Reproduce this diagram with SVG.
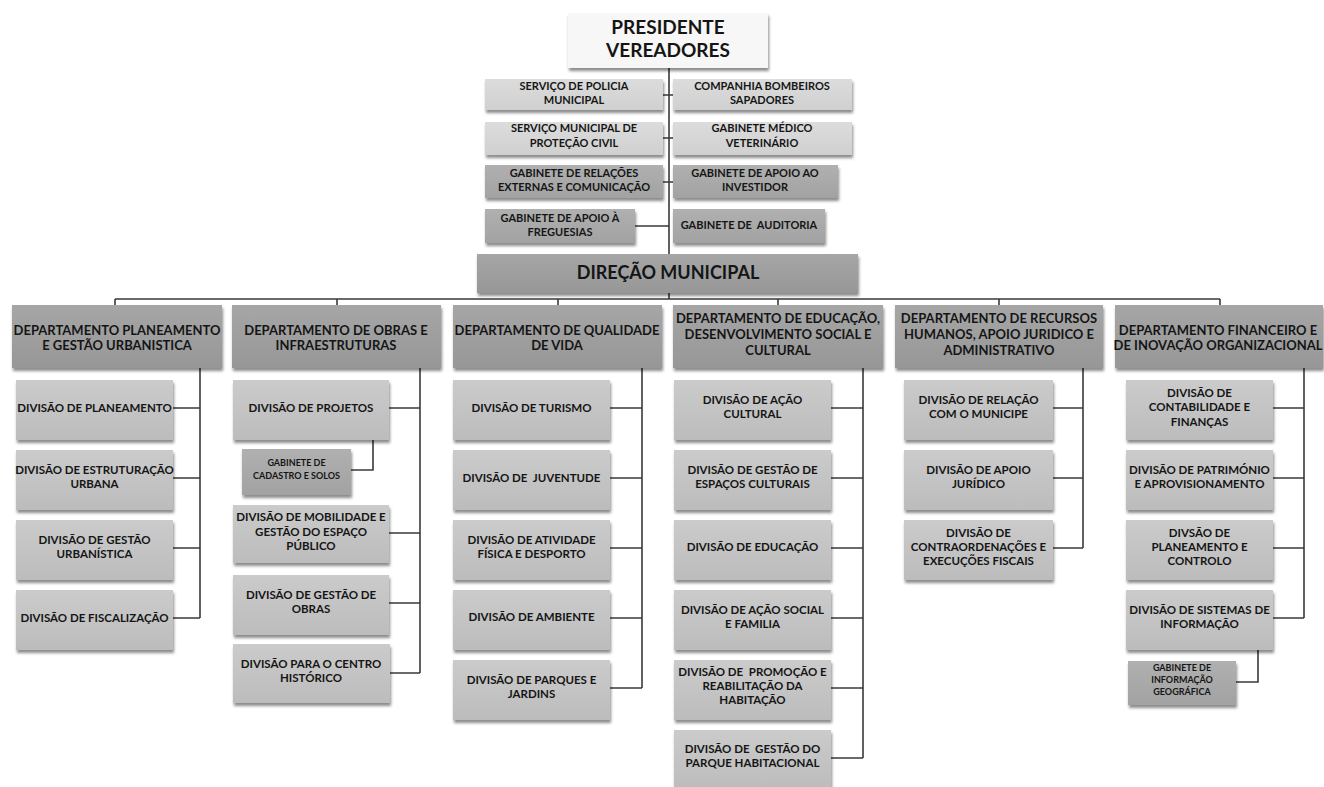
<svg xmlns="http://www.w3.org/2000/svg" width="1324" height="787" viewBox="0 0 1324 787">
<defs>
<filter id="sh" x="-10%" y="-20%" width="120%" height="150%">
<feDropShadow dx="1" dy="3" stdDeviation="1.6" flood-color="#000" flood-opacity="0.45"/>
</filter>
<linearGradient id="gDiv" x1="0" y1="0" x2="0" y2="1"><stop offset="0" stop-color="#cbcbcb"/><stop offset="1" stop-color="#bcbcbc"/></linearGradient>
<linearGradient id="gDep" x1="0" y1="0" x2="0" y2="1"><stop offset="0" stop-color="#a6a6a6"/><stop offset="1" stop-color="#979797"/></linearGradient>
<linearGradient id="gLt" x1="0" y1="0" x2="0" y2="1"><stop offset="0" stop-color="#dcdcdc"/><stop offset="1" stop-color="#d0d0d0"/></linearGradient>
<linearGradient id="gDk" x1="0" y1="0" x2="0" y2="1"><stop offset="0" stop-color="#b0b0b0"/><stop offset="1" stop-color="#a2a2a2"/></linearGradient>
</defs>
<style>
rect{filter:url(#sh)}
.div{fill:url(#gDiv)}
.dep{fill:url(#gDep)}
.lt{fill:url(#gLt)}
.dk{fill:url(#gDk)}
.wh{fill:#f7f7f7}
text{font-family:Lato,"Open Sans","Liberation Sans",sans-serif;font-weight:700;fill:#151515;text-anchor:middle}
.t11{font-size:11px}
.t12{font-size:11.5px}
.t9{font-size:9px}
.t14{font-size:13px}
.t20{font-size:18px}
.t21{font-size:19px}
#connectors path{fill:none;stroke:#3a3a3a;stroke-width:1.6}
</style>
<rect width="1324" height="787" fill="#fff" style="filter:none"/>
<g id="connectors">
<path d="M669 68V254M663 95H673M663 138H673M663 182H673M635 226H669"/>
<path d="M669 293V299M115 299H1220M115 299V305M337 299V305M558 299V305M778 299V305M999 299V305M1220 299V305"/>
<path d="M200 368V618M173 408H200M173 478H200M173 548H200M173 618H200"/>
<path d="M420 368V673M389 408H420M389 533H420M389 603H420M390 673H420M373 440V470H351"/>
<path d="M642 368V688M610 408H642M610 478H642M610 548H642M610 618H642M610 688H642"/>
<path d="M863 368V758M831 408H863M831 478H863M831 548H863M831 618H863M831 688H863M831 758H863"/>
<path d="M1083 368V548M1053 408H1083M1053 478H1083M1053 548H1083"/>
<path d="M1304 368V618M1273 408H1304M1273 478H1304M1273 548H1304M1273 618H1304M1258 650V682H1236"/>
</g>
<g id="presidente"><rect class="wh" x="568" y="13" width="200" height="55"/><text class="t21" x="668" y="34">PRESIDENTE</text><text class="t21" x="668" y="57">VEREADORES</text></g>
<g id="policia"><rect class="lt" x="485" y="79" width="178" height="31"/><text class="t11" x="574" y="90">SERVIÇO DE POLICIA</text><text class="t11" x="574" y="104">MUNICIPAL</text></g>
<g id="bombeiros"><rect class="lt" x="673" y="79" width="179" height="31"/><text class="t11" x="762" y="90">COMPANHIA BOMBEIROS</text><text class="t11" x="762" y="104">SAPADORES</text></g>
<g id="protecao"><rect class="lt" x="485" y="122" width="178" height="33"/><text class="t11" x="574" y="132">SERVIÇO MUNICIPAL DE</text><text class="t11" x="574" y="147">PROTEÇÃO CIVIL</text></g>
<g id="veterinario"><rect class="lt" x="673" y="122" width="179" height="33"/><text class="t11" x="762" y="132">GABINETE MÉDICO</text><text class="t11" x="762" y="147">VETERINÁRIO</text></g>
<g id="relacoes"><rect class="dk" x="485" y="165" width="178" height="33"/><text class="t11" x="574" y="177">GABINETE DE RELAÇÕES</text><text class="t11" x="574" y="191">EXTERNAS E COMUNICAÇÃO</text></g>
<g id="investidor"><rect class="dk" x="673" y="165" width="165" height="33"/><text class="t11" x="755" y="177">GABINETE DE APOIO AO</text><text class="t11" x="755" y="191">INVESTIDOR</text></g>
<g id="freguesias"><rect class="dk" x="485" y="209" width="150" height="34"/><text class="t11" x="560" y="222">GABINETE DE APOIO À</text><text class="t11" x="560" y="236">FREGUESIAS</text></g>
<g id="auditoria"><rect class="dk" x="673" y="209" width="152" height="34"/><text class="t11" x="749" y="229" xml:space="preserve">GABINETE DE  AUDITORIA</text></g>
<g id="direcao"><rect class="dep" x="477" y="254" width="381" height="39"/><text class="t20" x="668" y="279">DIREÇÃO MUNICIPAL</text></g>
<g id="dep1"><rect class="dep" x="12" y="305" width="210" height="63"/><text class="t14" x="117" y="335">DEPARTAMENTO PLANEAMENTO</text><text class="t14" x="117" y="350">E GESTÃO URBANISTICA</text></g>
<g id="dep2"><rect class="dep" x="232" y="305" width="209" height="63"/><text class="t14" x="336" y="335">DEPARTAMENTO DE OBRAS E</text><text class="t14" x="336" y="350">INFRAESTRUTURAS</text></g>
<g id="dep3"><rect class="dep" x="453" y="305" width="209" height="63"/><text class="t14" x="557" y="335">DEPARTAMENTO DE QUALIDADE</text><text class="t14" x="557" y="350">DE VIDA</text></g>
<g id="dep4"><rect class="dep" x="673" y="305" width="210" height="63"/><text class="t14" x="778" y="323">DEPARTAMENTO DE EDUCAÇÃO,</text><text class="t14" x="778" y="339">DESENVOLVIMENTO SOCIAL E</text><text class="t14" x="778" y="355">CULTURAL</text></g>
<g id="dep5"><rect class="dep" x="895" y="305" width="208" height="63"/><text class="t14" x="999" y="323">DEPARTAMENTO DE RECURSOS</text><text class="t14" x="999" y="339">HUMANOS, APOIO JURIDICO E</text><text class="t14" x="999" y="355">ADMINISTRATIVO</text></g>
<g id="dep6"><rect class="dep" x="1115" y="305" width="208" height="63"/><text class="t14" x="1218" y="335">DEPARTAMENTO FINANCEIRO E</text><text class="t14" x="1218" y="350">DE INOVAÇÃO ORGANIZACIONAL</text></g>
<g id="d1a"><rect class="div" x="16" y="380" width="157" height="60"/><text class="t12" x="94.5" y="412">DIVISÃO DE PLANEAMENTO</text></g>
<g id="d1b"><rect class="div" x="16" y="450" width="157" height="60"/><text class="t12" x="94.5" y="474">DIVISÃO DE ESTRUTURAÇÃO</text><text class="t12" x="94.5" y="488">URBANA</text></g>
<g id="d1c"><rect class="div" x="16" y="520" width="157" height="60"/><text class="t12" x="94.5" y="544">DIVISÃO DE GESTÃO</text><text class="t12" x="94.5" y="558">URBANÍSTICA</text></g>
<g id="d1d"><rect class="div" x="16" y="590" width="157" height="60"/><text class="t12" x="94.5" y="622">DIVISÃO DE FISCALIZAÇÃO</text></g>
<g id="d2a"><rect class="div" x="233" y="380" width="156" height="60"/><text class="t12" x="311" y="412">DIVISÃO DE PROJETOS</text></g>
<g id="d2g"><rect class="dk" x="242" y="449" width="109" height="46"/><text class="t9" x="296.5" y="466">GABINETE DE</text><text class="t9" x="296.5" y="479">CADASTRO E SOLOS</text></g>
<g id="d2b"><rect class="div" x="233" y="505" width="156" height="58"/><text class="t12" x="311" y="521">DIVISÃO DE MOBILIDADE E</text><text class="t12" x="311" y="536">GESTÃO DO ESPAÇO</text><text class="t12" x="311" y="550">PÚBLICO</text></g>
<g id="d2c"><rect class="div" x="233" y="575" width="156" height="60"/><text class="t12" x="311" y="599">DIVISÃO DE GESTÃO DE</text><text class="t12" x="311" y="613">OBRAS</text></g>
<g id="d2d"><rect class="div" x="233" y="644" width="157" height="59"/><text class="t12" x="311" y="668">DIVISÃO PARA O CENTRO</text><text class="t12" x="311" y="682">HISTÓRICO</text></g>
<g id="d3a"><rect class="div" x="453" y="380" width="157" height="60"/><text class="t12" x="531.5" y="412">DIVISÃO DE TURISMO</text></g>
<g id="d3b"><rect class="div" x="453" y="450" width="157" height="60"/><text class="t12" x="531.5" y="482" xml:space="preserve">DIVISÃO DE  JUVENTUDE</text></g>
<g id="d3c"><rect class="div" x="453" y="520" width="157" height="60"/><text class="t12" x="531.5" y="544">DIVISÃO DE ATIVIDADE</text><text class="t12" x="531.5" y="558">FÍSICA E DESPORTO</text></g>
<g id="d3d"><rect class="div" x="453" y="590" width="157" height="60"/><text class="t12" x="531.5" y="621">DIVISÃO DE AMBIENTE</text></g>
<g id="d3e"><rect class="div" x="453" y="660" width="157" height="60"/><text class="t12" x="531.5" y="684">DIVISÃO DE PARQUES E</text><text class="t12" x="531.5" y="698">JARDINS</text></g>
<g id="d4a"><rect class="div" x="674" y="380" width="157" height="60"/><text class="t12" x="752.5" y="404">DIVISÃO DE AÇÃO</text><text class="t12" x="752.5" y="418">CULTURAL</text></g>
<g id="d4b"><rect class="div" x="674" y="450" width="157" height="60"/><text class="t12" x="752.5" y="474">DIVISÃO DE GESTÃO DE</text><text class="t12" x="752.5" y="488">ESPAÇOS CULTURAIS</text></g>
<g id="d4c"><rect class="div" x="674" y="520" width="157" height="60"/><text class="t12" x="752.5" y="551">DIVISÃO DE EDUCAÇÃO</text></g>
<g id="d4d"><rect class="div" x="674" y="590" width="157" height="60"/><text class="t12" x="752.5" y="614">DIVISÃO DE AÇÃO SOCIAL</text><text class="t12" x="752.5" y="628">E FAMILIA</text></g>
<g id="d4e"><rect class="div" x="674" y="660" width="157" height="60"/><text class="t12" x="752.5" y="676" xml:space="preserve">DIVISÃO DE  PROMOÇÃO E</text><text class="t12" x="752.5" y="690">REABILITAÇÃO DA</text><text class="t12" x="752.5" y="704">HABITAÇÃO</text></g>
<g id="d4f"><rect class="div" x="674" y="730" width="157" height="60"/><text class="t12" x="752.5" y="753" xml:space="preserve">DIVISÃO DE  GESTÃO DO</text><text class="t12" x="752.5" y="767">PARQUE HABITACIONAL</text></g>
<g id="d5a"><rect class="div" x="904" y="380" width="149" height="60"/><text class="t12" x="978.5" y="404">DIVISÃO DE RELAÇÃO</text><text class="t12" x="978.5" y="418">COM O MUNICIPE</text></g>
<g id="d5b"><rect class="div" x="904" y="450" width="149" height="60"/><text class="t12" x="978.5" y="474">DIVISÃO DE APOIO</text><text class="t12" x="978.5" y="488">JURÍDICO</text></g>
<g id="d5c"><rect class="div" x="904" y="520" width="149" height="60"/><text class="t12" x="978.5" y="537">DIVISÃO DE</text><text class="t12" x="978.5" y="551">CONTRAORDENAÇÕES E</text><text class="t12" x="978.5" y="565">EXECUÇÕES FISCAIS</text></g>
<g id="d6a"><rect class="div" x="1126" y="380" width="147" height="60"/><text class="t12" x="1199.5" y="397">DIVISÃO DE</text><text class="t12" x="1199.5" y="411">CONTABILIDADE E</text><text class="t12" x="1199.5" y="426">FINANÇAS</text></g>
<g id="d6b"><rect class="div" x="1126" y="450" width="147" height="60"/><text class="t12" x="1199.5" y="474">DIVISÃO DE PATRIMÓNIO</text><text class="t12" x="1199.5" y="488">E APROVISIONAMENTO</text></g>
<g id="d6c"><rect class="div" x="1126" y="520" width="147" height="60"/><text class="t12" x="1199.5" y="537">DIVSÃO DE</text><text class="t12" x="1199.5" y="551">PLANEAMENTO E</text><text class="t12" x="1199.5" y="565">CONTROLO</text></g>
<g id="d6d"><rect class="div" x="1126" y="590" width="147" height="60"/><text class="t12" x="1199.5" y="614">DIVISÃO DE SISTEMAS DE</text><text class="t12" x="1199.5" y="628">INFORMAÇÃO</text></g>
<g id="d6g"><rect class="dk" x="1128" y="661" width="108" height="44"/><text class="t9" x="1182" y="671">GABINETE DE</text><text class="t9" x="1182" y="683">INFORMAÇÃO</text><text class="t9" x="1182" y="695">GEOGRÁFICA</text></g>
</svg>
